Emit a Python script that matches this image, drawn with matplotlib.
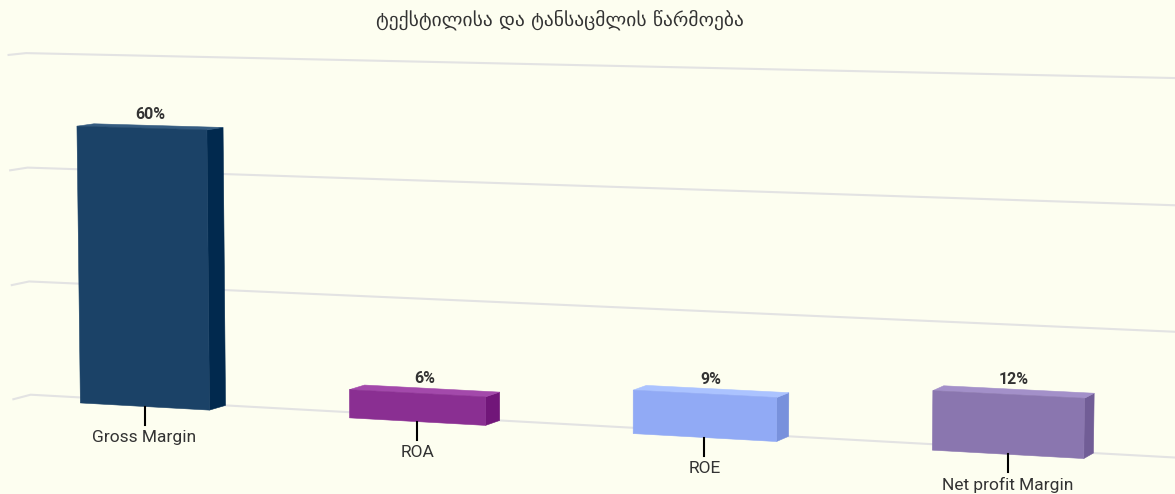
import numpy as np
import matplotlib.pyplot as plt
from matplotlib.patches import Polygon

# Chart data
title = 'ტექსტილისა და ტანსაცმლის წარმოება'
categories = ['Gross Margin', 'ROA', 'ROE', 'Net profit Margin']
values = [60, 6, 9, 12]
colors = ['#1b4267', '#8a2f92', '#91aaf5', '#8a76af']
grid_values = [0, 25, 50, 75]

W, H = 1175, 494
bg = '#fdfef0'

# 3D view (perspective camera, pixels)
focal = 4143.0
cx, cy = 587.0, 247.0
alpha = np.radians(5.75)   # looking down
beta = np.radians(21.0)    # turned sideways
origin = np.array([-0.1068, -0.0385, 1.0])  # camera-space spot of category 0, value 0, front
unit_u, unit_v, unit_w = 0.0716, 0.0011227, 0.008747
half_width = 0.243
u_min, u_max = -0.5, len(categories) - 0.5

ca, sa = np.cos(alpha), np.sin(alpha)
cb, sb = np.cos(beta), np.sin(beta)
ex = np.array([cb, -sb * sa, -sb * ca])
ey = np.array([0.0, ca, -sa])
ez = np.array([sb, cb * sa, cb * ca])


def project(u, v, w):
    p = origin + u * unit_u * ex + v * unit_v * ey + w * unit_w * ez
    return cx + focal * p[0] / p[2], cy - focal * p[1] / p[2]


def brighten(color, amount):
    rgb = np.array(plt.matplotlib.colors.to_rgb(color)) + amount
    return tuple(np.clip(rgb, 0, 1))


fig = plt.figure(figsize=(W / 100, H / 100), dpi=100, facecolor=bg)
ax = fig.add_axes([0, 0, 1, 1])
ax.set_xlim(0, W)
ax.set_ylim(H, 0)
ax.axis('off')
ax.set_facecolor(bg)

# grid on the back wall and the left wall
for g in grid_values:
    pts = [project(u_min, g, 0), project(u_min, g, 1), project(u_max, g, 1)]
    ax.plot([p[0] for p in pts], [p[1] for p in pts], color='#e3e3e3', lw=1.5,
            solid_joinstyle='miter', zorder=1)

# bars
for i, (cat, val, col) in enumerate(zip(categories, values, colors)):
    l, r = i - half_width, i + half_width
    front = [project(l, 0, 0), project(r, 0, 0), project(r, val, 0), project(l, val, 0)]
    side = [project(r, 0, 0), project(r, 0, 1), project(r, val, 1), project(r, val, 0)]
    top = [project(l, val, 0), project(r, val, 0), project(r, val, 1), project(l, val, 1)]
    for face, shade in [(side, -0.1), (top, 0.1), (front, 0.0)]:
        c = brighten(col, shade)
        ax.add_patch(Polygon(face, closed=True, facecolor=c, edgecolor=c,
                             lw=0.4, zorder=3))
    # data label
    lx, ly = project(i, val, 0.5)
    ax.text(lx, ly - 12, f'{val}%', ha='center', va='center', fontsize=11.5,
            fontweight='bold', color='#333333', family=['Roboto', 'DejaVu Sans'],
            zorder=5)
    # tick and category label
    bx, by = project(i, 0, 0)
    ax.plot([bx, bx], [by, by + 18], color='black', lw=1.5, zorder=4)
    ax.text(bx, by + 31, cat, ha='center', va='center', fontsize=12.5,
            color='#333333', family=['Roboto', 'DejaVu Sans'], zorder=5)

ax.text(560, 20, title, ha='center', va='center', fontsize=14, color='#333333',
        family=['DejaVu Sans'])

fig.savefig('out.png', dpi=100, facecolor=bg)
